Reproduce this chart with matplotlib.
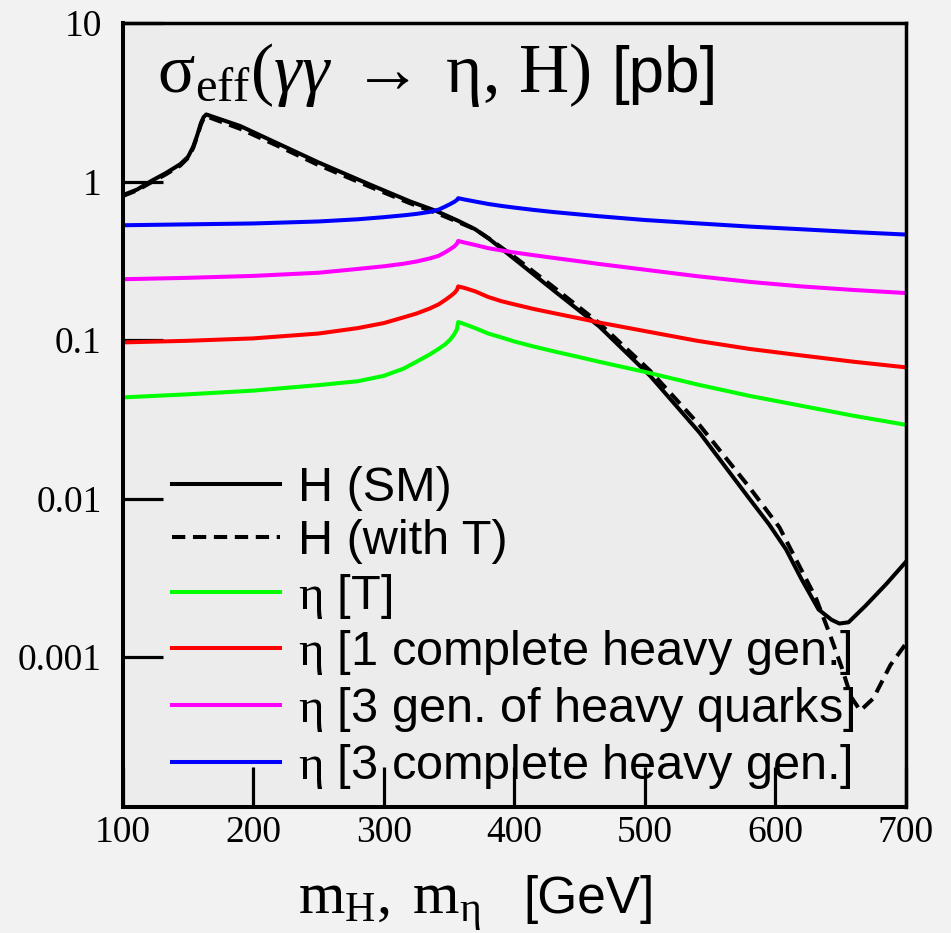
import matplotlib
matplotlib.use("Agg")
import matplotlib.pyplot as plt
from matplotlib.ticker import FixedLocator, FixedFormatter, NullLocator

plt.rcParams["font.family"] = ["Liberation Sans", "DejaVu Sans"]
plt.rcParams["mathtext.fontset"] = "custom"
plt.rcParams["mathtext.rm"] = "Liberation Serif"
plt.rcParams["mathtext.it"] = "Liberation Serif:italic"
plt.rcParams["mathtext.bf"] = "Liberation Serif:bold"

# ---- cross sections [pb] vs. mass [GeV] ----
# SM Higgs
m_h = [100, 111, 122, 133, 144, 150, 154, 157, 160, 162, 164, 190, 220, 250, 289,
       320, 340, 357, 370, 381, 400, 430, 465, 504, 542, 580, 595, 608, 620, 633,
       643, 649, 656, 669, 685, 700]
h_sm = [0.82, 0.89, 1.01, 1.13, 1.285, 1.43, 1.66, 1.95, 2.35, 2.55, 2.65, 2.24,
        1.72, 1.32, 0.96, 0.75, 0.653, 0.565, 0.50, 0.433, 0.325, 0.206, 0.122,
        0.0595, 0.026, 0.0100, 0.0069, 0.0048, 0.0031, 0.0020, 0.00172, 0.00163,
        0.00166, 0.00211, 0.0029, 0.0040]

# Higgs with an extra heavy T quark
m_ht = [100, 111, 122, 133, 144, 150, 154, 157, 160, 162, 164, 190, 220, 250, 289,
        320, 340, 357, 370, 381, 400, 430, 465, 504, 542, 580, 603, 618, 631, 641,
        651, 658, 665, 675, 688, 700]
h_t = [0.81, 0.88, 0.99, 1.11, 1.26, 1.41, 1.63, 1.92, 2.30, 2.50, 2.58, 2.15,
       1.66, 1.27, 0.93, 0.73, 0.635, 0.555, 0.50, 0.435, 0.335, 0.216, 0.128,
       0.064, 0.029, 0.0118, 0.0066, 0.0038, 0.00236, 0.00144, 0.00085, 0.00056,
       0.00046, 0.00055, 0.00089, 0.00122]

# pseudoscalar eta for the heavy-fermion scenarios
m_eta = [100, 150, 200, 250, 280, 300, 315, 325, 335, 342, 347, 351, 354, 356,
         357, 362, 370, 380, 390, 400, 415, 430, 450, 465, 500, 540, 580, 620,
         660, 700]
eta_T = [0.0435, 0.0455, 0.048, 0.052, 0.055, 0.0595, 0.066, 0.073, 0.081, 0.088,
         0.094, 0.101, 0.109, 0.117, 0.130, 0.126, 0.119, 0.110, 0.104, 0.098,
         0.091, 0.085, 0.078, 0.073, 0.063, 0.0525, 0.0445, 0.0385, 0.0333, 0.0292]
eta_1gen = [0.0967, 0.099, 0.1025, 0.110, 0.119, 0.128, 0.139, 0.147, 0.158,
            0.168, 0.179, 0.189, 0.198, 0.207, 0.218, 0.213, 0.203, 0.187, 0.176,
            0.168, 0.157, 0.148, 0.137, 0.129, 0.114, 0.099, 0.088, 0.080, 0.073,
            0.0673]
eta_3q = [0.242, 0.247, 0.254, 0.266, 0.281, 0.292, 0.303, 0.313, 0.327, 0.340,
          0.358, 0.375, 0.390, 0.405, 0.422, 0.412, 0.398, 0.380, 0.368, 0.357,
          0.343, 0.330, 0.314, 0.302, 0.278, 0.253, 0.233, 0.218, 0.207, 0.198]
eta_3gen = [0.53, 0.537, 0.544, 0.56, 0.578, 0.596, 0.612, 0.625, 0.643, 0.665,
            0.695, 0.722, 0.745, 0.765, 0.785, 0.770, 0.748, 0.722, 0.702, 0.685,
            0.662, 0.642, 0.620, 0.604, 0.572, 0.545, 0.520, 0.500, 0.480, 0.463]

labels = ["H (SM)", "H (with T)", r"$\mathrm{\eta}$ [T]",
          r"$\mathrm{\eta}$ [1 complete heavy gen.]",
          r"$\mathrm{\eta}$ [3 gen. of heavy quarks]",
          r"$\mathrm{\eta}$ [3 complete heavy gen.]"]

x_ticks = [100, 200, 300, 400, 500, 600, 700]
y_ticks = [0.001, 0.01, 0.1, 1, 10]
y_tick_labels = ["0.001", "0.01", "0.1", "1", "10"]

title_math = r"$\mathrm{\sigma}_{\mathrm{eff}}(\gamma\gamma\;\rightarrow\;\mathrm{\eta},\,\mathrm{H})$"
title_unit = "[pb]"
xlabel_math = r"$\mathrm{m}_\mathrm{H},\;\mathrm{m}_\mathrm{\eta}$"
xlabel_unit = "[GeV]"

# ---- figure ----
W, H = 951, 933
fig = plt.figure(figsize=(W / 100, H / 100), dpi=100, facecolor="#f2f2f2")
ax = fig.add_axes([122.7 / W, 1 - 806.7 / H, 783.3 / W, 783.7 / H])
ax.set_facecolor("#ececec")

lw = 2.9
ax.plot(m_h, h_sm, color="black", lw=lw, label=labels[0])
ax.plot(m_ht, h_t, color="black", lw=lw, linestyle=(0, (3.3, 1.9)), label=labels[1])
ax.plot(m_eta, eta_T, color="#00ff00", lw=lw, label=labels[2])
ax.plot(m_eta, eta_1gen, color="#ff0000", lw=lw, label=labels[3])
ax.plot(m_eta, eta_3q, color="#ff00ff", lw=lw, label=labels[4])
ax.plot(m_eta, eta_3gen, color="#0000ff", lw=lw, label=labels[5])

ax.set_yscale("log")
ax.set_xlim(100, 700)
ax.set_ylim(1.14e-4, 10)

ax.xaxis.set_major_locator(FixedLocator(x_ticks))
ax.xaxis.set_minor_locator(NullLocator())
ax.yaxis.set_major_locator(FixedLocator(y_ticks))
ax.yaxis.set_major_formatter(FixedFormatter(y_tick_labels))
ax.yaxis.set_minor_locator(NullLocator())
ax.tick_params(axis="both", direction="in", length=29, width=2.3, color="black",
               top=False, right=False, labelsize=27)
ax.tick_params(axis="x", pad=6)
ax.tick_params(axis="y", pad=15)
for lab in ax.get_xticklabels() + ax.get_yticklabels():
    lab.set_fontfamily("Liberation Serif")

for side in ["left", "bottom"]:
    ax.spines[side].set_linewidth(2.9)
for side in ["top", "right"]:
    ax.spines[side].set_linewidth(2.5)


def ax_x(px):
    return (px - 122.7) / 783.3


def ax_y(py):
    return (806.7 - py) / 783.7


# panel title inside the frame
ax.text(ax_x(157), ax_y(92), title_math, transform=ax.transAxes, fontsize=50,
        ha="left", va="baseline")
ax.text(ax_x(612), ax_y(92), title_unit, transform=ax.transAxes, fontsize=46,
        ha="left", va="baseline")

# x-axis label: symbol part and unit part
ax.set_xlabel(xlabel_math, fontsize=43, ha="left", va="baseline")
ax.xaxis.set_label_coords(ax_x(298), ax_y(913))
ax.text(ax_x(523), ax_y(913), xlabel_unit, transform=ax.transAxes, fontsize=37,
        ha="left", va="baseline", clip_on=False)

leg = ax.legend(loc="upper left", bbox_to_anchor=(ax_x(172), ax_y(466)),
                frameon=False, fontsize=35, handlelength=2.22, handletextpad=0.37,
                labelspacing=0.16, borderpad=0, borderaxespad=0)

fig.savefig("out.png", dpi=100, facecolor=fig.get_facecolor())
